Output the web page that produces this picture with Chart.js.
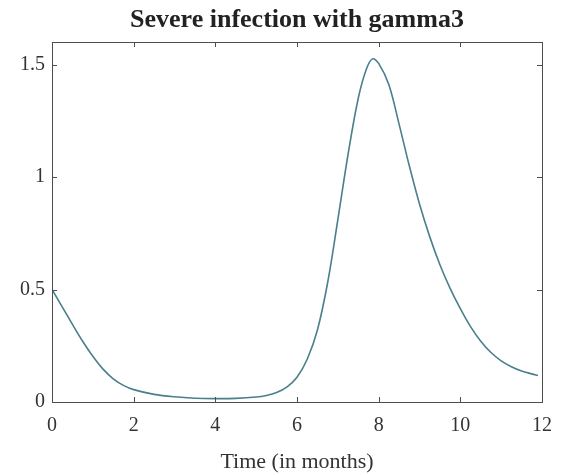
<!DOCTYPE html>
<html>
<head>
<meta charset="utf-8">
<script src="https://cdn.jsdelivr.net/npm/chart.js@4/dist/chart.umd.min.js"></script>
<style>
  html, body { margin: 0; padding: 0; background: #fff; }
  #wrap { width: 565px; height: 475px; }
</style>
</head>
<body>
<div id="wrap"><canvas id="infectionChart"></canvas></div>
<script>
// Data
const months = [0, 0.25, 0.5, 0.75, 1, 1.25, 1.5, 1.75, 2, 2.5, 3, 3.5, 4, 4.5, 5, 5.25, 5.5, 5.75, 6, 6.25, 6.5, 6.75, 7, 7.25, 7.5, 7.7, 7.85, 8, 8.25, 8.5, 8.75, 9, 9.25, 9.5, 9.75, 10, 10.25, 10.5, 10.75, 11, 11.25, 11.5, 11.75, 11.9];
const infected = [0.5, 0.423, 0.345, 0.27, 0.203, 0.146, 0.103, 0.074, 0.055, 0.034, 0.023, 0.017, 0.015, 0.016, 0.022, 0.029, 0.042, 0.066, 0.11, 0.19, 0.32, 0.53, 0.81, 1.1, 1.35, 1.48, 1.525, 1.505, 1.41, 1.235, 1.05, 0.88, 0.735, 0.61, 0.505, 0.415, 0.335, 0.27, 0.22, 0.183, 0.157, 0.138, 0.125, 0.118];
const xTicks = [0, 2, 4, 6, 8, 10, 12];
const yTicks = [0, 0.5, 1, 1.5];
const chartTitle = 'Severe infection with gamma3';
const xTitle = 'Time (in months)';

const serif = '"Liberation Serif", "Times New Roman", serif';
const axisColor = '#4d4d4d';
const textColor = '#333333';

// Box frame, inward ticks on all four sides and the title (MATLAB look)
const framePlugin = {
    id: 'frame',
    afterDraw(chart) {
        const { ctx, chartArea: a, scales } = chart;
        const len = 5;
        ctx.save();
        ctx.strokeStyle = axisColor;
        ctx.lineWidth = 1;
        ctx.strokeRect(a.left + 0.5, a.top + 0.5, a.right - a.left, a.bottom - a.top);
        ctx.beginPath();
        xTicks.forEach(v => {
            const x = Math.round(scales.x.getPixelForValue(v)) + 0.5;
            ctx.moveTo(x, a.bottom); ctx.lineTo(x, a.bottom - len);
            ctx.moveTo(x, a.top); ctx.lineTo(x, a.top + len);
        });
        yTicks.forEach(v => {
            const y = Math.round(scales.y.getPixelForValue(v)) + 0.5;
            ctx.moveTo(a.left, y); ctx.lineTo(a.left + len, y);
            ctx.moveTo(a.right, y); ctx.lineTo(a.right - len, y);
        });
        ctx.stroke();

        ctx.fillStyle = '#222';
        ctx.font = 'bold 26px ' + serif;
        ctx.textAlign = 'center';
        ctx.textBaseline = 'middle';
        ctx.fillText(chartTitle, (a.left + a.right) / 2, 20);
        ctx.restore();
    }
};

const ctx = document.getElementById('infectionChart').getContext('2d');
new Chart(ctx, {
    type: 'line',
    data: {
        datasets: [{
            data: months.map((m, i) => ({ x: m, y: infected[i] })),
            borderColor: '#4a7f8c',
            borderWidth: 1.6,
            pointRadius: 0,
            fill: false,
            tension: 0.35
        }]
    },
    options: {
        responsive: true,
        maintainAspectRatio: false,
        animation: false,
        layout: { padding: { top: 42, right: 23, left: 0, bottom: 0 } },
        plugins: {
            legend: { display: false },
            title: { display: false },
            tooltip: { enabled: false }
        },
        scales: {
            x: {
                type: 'linear',
                min: 0,
                max: 12,
                afterBuildTicks: s => { s.ticks = xTicks.map(v => ({ value: v })); },
                afterFit: s => { s.height = 73; },
                grid: { display: false, drawTicks: false },
                border: { display: false },
                ticks: {
                    padding: 12,
                    color: textColor,
                    font: { family: serif, size: 20 },
                    maxRotation: 0
                },
                title: {
                    display: true,
                    text: xTitle,
                    color: textColor,
                    font: { family: serif, size: 22 },
                    padding: { top: 0, bottom: 0 }
                }
            },
            y: {
                min: 0,
                max: 1.6,
                afterBuildTicks: s => { s.ticks = yTicks.map(v => ({ value: v })); },
                afterFit: s => { s.width = 52; },
                grid: { display: false, drawTicks: false },
                border: { display: false },
                ticks: {
                    padding: 7,
                    color: textColor,
                    font: { family: serif, size: 20 },
                    callback: v => String(v)
                }
            }
        }
    },
    plugins: [framePlugin]
});
</script>
</body>
</html>
